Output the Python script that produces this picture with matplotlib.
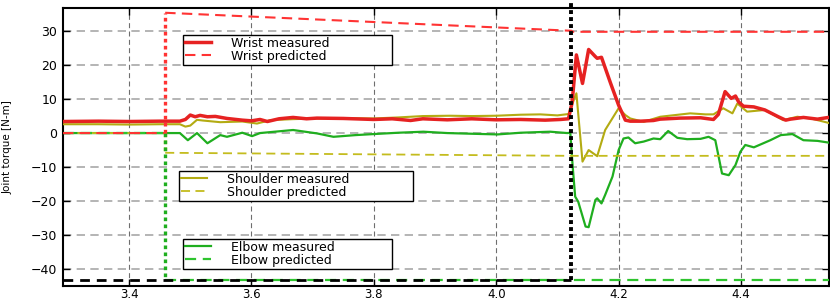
import matplotlib
matplotlib.use("Agg")
import matplotlib.pyplot as plt
import numpy as np

# ---------------- data ----------------
x_min, x_max = 3.292, 4.543
t_step = 3.459        # start of prediction step
t_contact = 4.123     # contact instant

wrist_x = [3.292, 3.35, 3.40, 3.45, 3.483, 3.492, 3.500, 3.508, 3.516, 3.528, 3.541, 3.56,
           3.585, 3.60, 3.614, 3.626, 3.645, 3.668, 3.69, 3.707, 3.75, 3.80, 3.83, 3.86,
           3.88, 3.92, 3.96, 4.00, 4.04, 4.08, 4.105, 4.118, 4.124, 4.131, 4.141, 4.151,
           4.162, 4.165, 4.172, 4.187, 4.200, 4.211, 4.219, 4.236, 4.257, 4.268, 4.30,
           4.334, 4.355, 4.363, 4.374, 4.384, 4.391, 4.396, 4.404, 4.421, 4.439, 4.461,
           4.473, 4.481, 4.502, 4.525, 4.543]
wrist_y = [3.4, 3.5, 3.4, 3.5, 3.5, 4.0, 5.3, 4.8, 5.2, 4.8, 4.9, 4.3,
           3.8, 3.6, 4.0, 3.4, 4.2, 4.6, 4.2, 4.4, 4.3, 4.0, 4.2, 3.7,
           4.2, 3.9, 4.2, 3.9, 4.0, 3.8, 4.0, 4.2, 9.0, 23.0, 14.6, 24.6,
           22.5, 22.0, 22.3, 14.6, 8.2, 3.8, 3.5, 3.5, 3.7, 4.1, 4.4,
           4.5, 4.0, 5.5, 12.2, 10.2, 10.9, 9.2, 7.9, 7.7, 6.8, 4.8,
           3.8, 4.1, 4.6, 4.1, 4.6]

shoulder_x = [3.292, 3.35, 3.40, 3.45, 3.483, 3.492, 3.500, 3.511, 3.52, 3.549, 3.585,
              3.609, 3.631, 3.668, 3.707, 3.745, 3.80, 3.84, 3.88, 3.925, 3.96, 4.00,
              4.04, 4.072, 4.10, 4.118, 4.131, 4.141, 4.151, 4.165, 4.178, 4.200, 4.211,
              4.219, 4.241, 4.268, 4.317, 4.342, 4.355, 4.371, 4.386, 4.394, 4.410, 4.439,
              4.469, 4.492, 4.514, 4.543]
shoulder_y = [2.6, 2.6, 2.5, 2.6, 2.6, 1.9, 2.2, 3.9, 3.7, 3.2, 3.4,
              2.8, 3.8, 4.1, 4.3, 4.4, 4.3, 4.6, 5.0, 5.1, 5.0, 5.1,
              5.4, 5.5, 5.2, 5.6, 11.7, -8.4, -5.0, -6.8, 0.9, 7.3, 5.3,
              4.3, 3.3, 4.8, 5.8, 5.5, 5.5, 7.3, 5.8, 8.7, 6.3, 6.8,
              3.8, 4.8, 4.3, 3.0]

elbow_x = [3.292, 3.40, 3.483, 3.496, 3.511, 3.528, 3.549, 3.560, 3.585, 3.601, 3.614,
           3.668, 3.707, 3.734, 3.770, 3.799, 3.84, 3.881, 3.92, 3.96, 4.002, 4.04,
           4.088, 4.116, 4.121, 4.125, 4.129, 4.134, 4.146, 4.151, 4.162, 4.165, 4.172,
           4.178, 4.190, 4.200, 4.208, 4.216, 4.227, 4.241, 4.257, 4.268, 4.281, 4.296,
           4.312, 4.334, 4.347, 4.358, 4.369, 4.380, 4.391, 4.399, 4.407, 4.421, 4.448,
           4.465, 4.484, 4.502, 4.525, 4.543]
elbow_y = [0.0, 0.0, 0.0, -2.1, 0.0, -3.0, -0.6, -1.1, 0.1, -0.9, 0.0,
           0.9, -0.1, -1.1, -0.6, -0.3, 0.1, 0.4, 0.0, -0.2, -0.4, 0.1,
           0.4, 0.0, 0.1, -10.0, -18.7, -20.2, -27.5, -27.7, -19.7, -19.2, -20.7,
           -18.2, -12.8, -5.0, -1.6, -1.3, -3.0, -2.5, -1.6, -1.8, 0.6, -1.4,
           -1.8, -1.7, -1.1, -2.1, -11.9, -12.4, -9.4, -5.5, -3.5, -4.2, -2.1,
           -0.6, -0.3, -2.1, -2.3, -2.8]

pred_before = 0.0
wrist_pred = [35.4, 30.1, 29.8]        # at step, at contact, after contact
shoulder_pred = [-5.8, -6.7, -6.7]
elbow_pred = -43.2
contact_level = -43.2

x_ticks = [3.4, 3.6, 3.8, 4.0, 4.2, 4.4]
y_ticks = [-40, -30, -20, -10, 0, 10, 20, 30]
ylim = (-45, 36.8)

# ---------------- style ----------------
c_wrist = "#e62222"
c_wrist_p = "#ff3333"
c_sh = "#b3ab12"
c_sh_p = "#c4bc1e"
c_el = "#1fae1f"
c_el_p = "#2ec42e"

fig = plt.figure(figsize=(8.3, 3.0), dpi=100)
ax = fig.add_axes([63 / 830, 14 / 300, 765.5 / 830, 278 / 300])

# measured
ax.plot(shoulder_x, shoulder_y, color=c_sh, lw=1.5, zorder=3, label="Shoulder measured")
ax.plot(elbow_x, elbow_y, color=c_el, lw=1.6, zorder=3, label="Elbow measured")
ax.plot(wrist_x, wrist_y, color=c_wrist, lw=2.5, zorder=3, label="Wrist measured")

dash = (0, (5, 3))
# predicted (horizontal parts dashed)
sh_p, = ax.plot([x_min, t_step, np.nan, t_step, t_contact, t_contact, x_max],
                [pred_before, pred_before, np.nan, shoulder_pred[0], shoulder_pred[1],
                 shoulder_pred[2], shoulder_pred[2]],
                color=c_sh_p, lw=1.3, ls=dash, zorder=4, label="Shoulder predicted")
el_p, = ax.plot([x_min, t_step, np.nan, t_step, x_max],
                [pred_before, pred_before, np.nan, elbow_pred, elbow_pred],
                color=c_el_p, lw=1.6, ls=dash, zorder=4, label="Elbow predicted")
wr_p, = ax.plot([x_min, t_step, np.nan, t_step, t_contact, t_contact, x_max],
                [pred_before, pred_before, np.nan, wrist_pred[0], wrist_pred[1],
                 wrist_pred[2], wrist_pred[2]],
                color=c_wrist_p, lw=1.5, ls=dash, zorder=4, label="Wrist predicted")
# vertical steps dotted
dots = (0, (1.1, 1.0))
ax.plot([t_step, t_step], [pred_before, shoulder_pred[0]], color=c_sh_p, lw=2.4, ls=dots, zorder=4)
ax.plot([t_step, t_step], [pred_before, elbow_pred], color=c_el, lw=2.4, ls=dots, zorder=4)
ax.plot([t_step, t_step], [pred_before, wrist_pred[0]], color=c_wrist_p, lw=2.4, ls=dots, zorder=4)

# contact marker
ax.plot([x_min, t_contact], [contact_level, contact_level], color="black", lw=2.0,
        ls=(0, (3.5, 2.5)), zorder=5)
ax.plot([t_contact, t_contact], [contact_level, 39.2], color="black", lw=2.8,
        ls=(0, (1.0, 0.8)), zorder=6, clip_on=False)

ax.set_xlim(x_min, x_max)
ax.set_ylim(*ylim)
ax.set_xticks(x_ticks)
ax.set_yticks(y_ticks)
ax.set_xticklabels([f"{v:.1f}" for v in x_ticks])
ax.set_yticklabels([f"{v:d}".replace("-", "\u2212") for v in y_ticks])
ax.tick_params(direction="in", length=5, width=1, labelsize=9, pad=4,
               right=True, top=True, colors="black")
ax.tick_params(axis="x", labelsize=8.5, pad=1.5)

ax.xaxis.grid(True, color="#6e6e6e", lw=0.8, ls=(0, (4.5, 3)))
ax.yaxis.grid(True, color="#a8a8a8", lw=1.2, ls=(0, (5, 3.2)))
ax.set_axisbelow(True)
for s in ax.spines.values():
    s.set_linewidth(1.5)
    s.set_color("black")

ax.set_ylabel("Joint torque [N-m]", fontsize=7.5,
              family=["Liberation Sans Narrow", "DejaVu Sans"])
ax.yaxis.set_label_coords(-0.066, 0.5)

leg_kw = dict(fontsize=9, frameon=True, fancybox=False, framealpha=1, edgecolor="black",
              mode="expand", borderaxespad=0, borderpad=0.15, labelspacing=0.0,
              handlelength=2.1, handletextpad=1.6, loc="upper left")

h_w = [ax.lines[2], wr_p]
l1 = ax.legend(h_w, ["Wrist measured", "Wrist predicted"],
               bbox_to_anchor=(0.1568, 0.8058, 0.4298 - 0.1568, 0.9029 - 0.8058), **leg_kw)
l1.get_frame().set_linewidth(1.0)
ax.add_artist(l1)
h_s = [ax.lines[0], sh_p]
l2 = ax.legend(h_s, ["Shoulder measured", "Shoulder predicted"],
               bbox_to_anchor=(0.1515, 0.3094, 0.4572 - 0.1515, 0.4137 - 0.3094), **leg_kw)
l2.get_frame().set_linewidth(1.0)
ax.add_artist(l2)
h_e = [ax.lines[1], el_p]
l3 = ax.legend(h_e, ["Elbow measured", "Elbow predicted"],
               bbox_to_anchor=(0.1568, 0.0755, 0.4298 - 0.1568, 0.1691 - 0.0755), **leg_kw)
l3.get_frame().set_linewidth(1.0)

fig.savefig("out.png", dpi=100)
